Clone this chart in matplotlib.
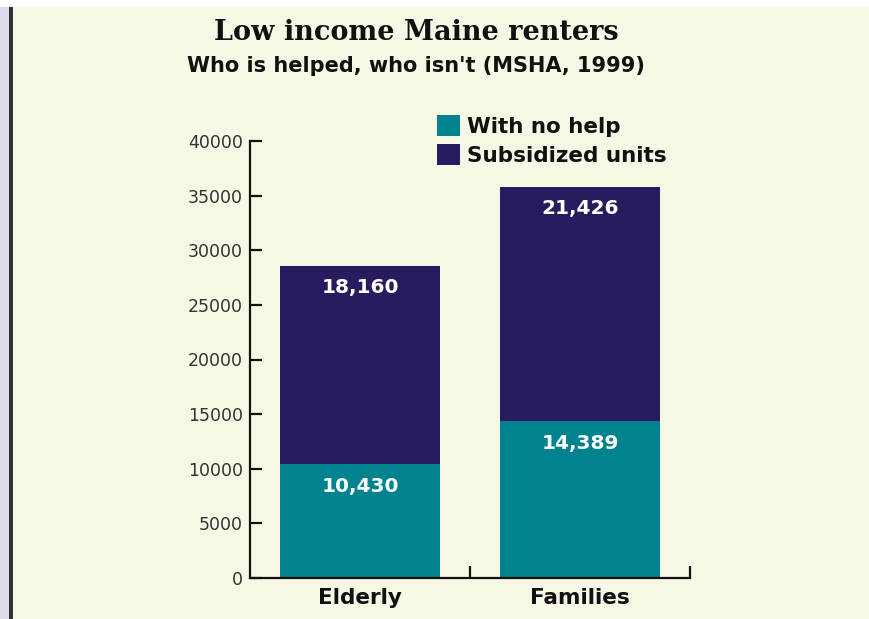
"""Stacked bars: low income Maine renters, helped vs not helped (MSHA, 1999)."""

import matplotlib

matplotlib.use("Agg")
import matplotlib.pyplot as plt
from matplotlib.patches import Patch, Rectangle
from matplotlib.ticker import FixedLocator
import numpy as np

CATEGORIES = ["Elderly", "Families"]
NO_HELP = [10430, 14389]
SUBSIDIZED = [18160, 21426]
SERIES_LABELS = ["With no help", "Subsidized units"]
YTICKS = [0, 5000, 10000, 15000, 20000, 25000, 30000, 35000, 40000]

TEAL = "#00838f"
PURPLE = "#2a1b5e"
CREAM = "#f8f7e6"


def value_label(ax, x, y, value):
    ax.annotate(f"{value:,}", (x, y), xytext=(0, -16), textcoords="offset points",
                ha="center", va="center", color="white", fontsize=14.5,
                fontweight="bold", family="DejaVu Sans")


def main() -> None:
    fig = plt.figure(figsize=(8.7, 6.19), dpi=100, facecolor="white")
    # page decoration: lavender margin, dark rule, cream panel
    fig.patches.append(Rectangle((0, 0), 9 / 870, 612 / 619, transform=fig.transFigure,
                                 facecolor="#dddcec", edgecolor="none", zorder=-3))
    fig.patches.append(Rectangle((9 / 870, 0), 4 / 870, 612 / 619, transform=fig.transFigure,
                                 facecolor="#333333", edgecolor="none", zorder=-2))
    fig.patches.append(Rectangle((13 / 870, 0), 1, 612 / 619, transform=fig.transFigure,
                                 facecolor=CREAM, edgecolor="none", zorder=-3))

    ax = fig.add_axes([250 / 870, 41 / 619, 440 / 870, 437 / 619])
    ax.set_facecolor("none")
    x = np.arange(len(CATEGORIES))
    width = 0.73
    ax.bar(x, NO_HELP, width, color=TEAL, label=SERIES_LABELS[0], zorder=2)
    ax.bar(x, SUBSIDIZED, width, bottom=NO_HELP, color=PURPLE,
           label=SERIES_LABELS[1], zorder=2)
    for xi, low, high in zip(x, NO_HELP, SUBSIDIZED):
        value_label(ax, xi, low, low)
        value_label(ax, xi, low + high, high)

    ax.set_xlim(-0.5, 1.5)
    ax.set_ylim(0, 40000)
    ax.set_yticks(YTICKS)
    ax.set_yticklabels([str(t) for t in YTICKS])
    ax.set_xticks(x)
    ax.set_xticklabels(CATEGORIES)
    ax.xaxis.set_minor_locator(FixedLocator([0.5, 1.5]))
    for side in ("top", "right"):
        ax.spines[side].set_visible(False)
    for side in ("left", "bottom"):
        ax.spines[side].set_linewidth(1.6)
        ax.spines[side].set_color("#111111")
    ax.tick_params(axis="y", direction="in", length=8.5, width=1.6, pad=5,
                   labelsize=12.5, labelcolor="#333333", color="#111111")
    ax.tick_params(axis="x", which="major", length=0, pad=7, labelsize=15.5)
    ax.tick_params(axis="x", which="minor", direction="in", length=8.5, width=1.6,
                   color="#111111")
    for lab in ax.get_xticklabels():
        lab.set_fontweight("bold")
        lab.set_color("#111111")

    handles = [Patch(facecolor=TEAL, label=SERIES_LABELS[0]),
               Patch(facecolor=PURPLE, label=SERIES_LABELS[1])]
    leg = fig.legend(handles=handles, loc="upper left",
                     bbox_to_anchor=(437 / 870, 1 - 115 / 619), frameon=False,
                     borderpad=0, borderaxespad=0, handlelength=1.05,
                     handleheight=1.1, handletextpad=0.35, labelspacing=0.35,
                     prop={"size": 15.5, "weight": "bold"})
    for t in leg.get_texts():
        t.set_color("#111111")

    fig.text(416 / 870, 1 - 33 / 619, "Low income Maine renters", ha="center",
             va="center", family="DejaVu Serif", fontweight="bold", fontsize=19.5,
             color="#111111")
    fig.text(416 / 870, 1 - 66 / 619, "Who is helped, who isn't (MSHA, 1999)",
             ha="center", va="center", fontweight="bold", fontsize=15,
             color="#111111")

    fig.savefig("out.png", dpi=100, facecolor=fig.get_facecolor())
    plt.close(fig)


if __name__ == "__main__":
    main()
